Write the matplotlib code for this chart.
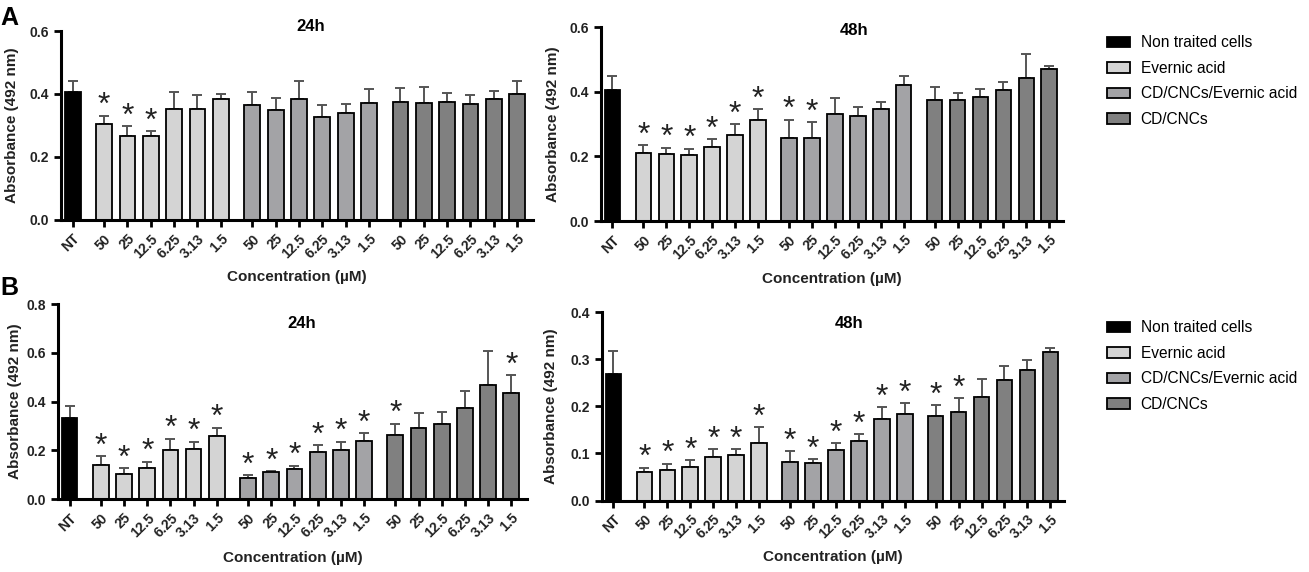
import numpy as np
import matplotlib.pyplot as plt
from matplotlib.patches import Patch

plt.rcParams['font.family'] = ['Liberation Sans', 'DejaVu Sans']

# categories
groups = ["Non traited cells", "Evernic acid", "CD/CNCs/Evernic acid", "CD/CNCs"]
conc = ["50", "25", "12.5", "6.25", "3.13", "1.5"]
tick_labels = ["NT"] + conc * 3

# panel A, 24h  (NT, evernic x6, CD/CNCs/evernic x6, CD/CNCs x6)
a24_mean = [0.405, 0.304, 0.266, 0.267, 0.352, 0.352, 0.384,
            0.365, 0.348, 0.383, 0.327, 0.340, 0.371,
            0.374, 0.370, 0.376, 0.367, 0.384, 0.400]
a24_err = [0.037, 0.027, 0.032, 0.016, 0.054, 0.046, 0.016,
           0.041, 0.040, 0.059, 0.037, 0.028, 0.045,
           0.044, 0.053, 0.027, 0.029, 0.027, 0.042]
a24_sig = [0, 1, 1, 1, 0, 0, 0,
           0, 0, 0, 0, 0, 0,
           0, 0, 0, 0, 0, 0]

# panel A, 48h
a48_mean = [0.405, 0.210, 0.206, 0.205, 0.228, 0.266, 0.314,
            0.258, 0.256, 0.330, 0.326, 0.346, 0.421,
            0.374, 0.376, 0.385, 0.404, 0.444, 0.469]
a48_err = [0.043, 0.025, 0.021, 0.019, 0.025, 0.033, 0.032,
           0.056, 0.049, 0.052, 0.028, 0.022, 0.028,
           0.041, 0.021, 0.025, 0.027, 0.072, 0.010]
a48_sig = [0, 1, 1, 1, 1, 1, 1,
           1, 1, 0, 0, 0, 0,
           0, 0, 0, 0, 0, 0]

# panel B, 24h
b24_mean = [0.334, 0.138, 0.102, 0.128, 0.203, 0.206, 0.259,
            0.087, 0.109, 0.123, 0.191, 0.202, 0.236,
            0.261, 0.291, 0.306, 0.375, 0.466, 0.433]
b24_err = [0.048, 0.037, 0.024, 0.025, 0.044, 0.029, 0.033,
           0.010, 0.004, 0.014, 0.029, 0.033, 0.034,
           0.048, 0.063, 0.049, 0.067, 0.143, 0.076]
b24_sig = [0, 1, 1, 1, 1, 1, 1,
           1, 1, 1, 1, 1, 1,
           1, 0, 0, 0, 0, 1]

# panel B, 48h
b48_mean = [0.268, 0.060, 0.064, 0.072, 0.093, 0.097, 0.123,
            0.082, 0.080, 0.108, 0.127, 0.173, 0.183,
            0.180, 0.188, 0.220, 0.255, 0.278, 0.316]
b48_err = [0.049, 0.010, 0.014, 0.014, 0.016, 0.012, 0.033,
           0.023, 0.008, 0.013, 0.014, 0.025, 0.023,
           0.022, 0.029, 0.038, 0.030, 0.021, 0.008]
b48_sig = [0, 1, 1, 1, 1, 1, 1,
           1, 1, 1, 1, 1, 1,
           1, 1, 0, 0, 0, 0]

colors = ["#000000", "#d4d4d4", "#a3a3a6", "#808080"]
bar_colors = [colors[0]] + [colors[1]] * 6 + [colors[2]] * 6 + [colors[3]] * 6

# x positions: NT, then three groups of six with a gap between groups
gap = 1.35
xpos = [0.0]
for g in range(3):
    for i in range(6):
        xpos.append(gap + g * (5 + gap) + i)
xpos = np.array(xpos)

fig = plt.figure(figsize=(13.09, 5.72), dpi=100)


def panel(rect, mean, err, sig, ymax, ystep, title, title_xy, ylab_x, xr):
    ax = fig.add_axes(rect)
    mean = np.array(mean)
    err = np.array(err)
    ax.bar(xpos, mean, width=0.68, color=bar_colors, edgecolor="black",
           linewidth=1.3, zorder=2)
    ax.errorbar(xpos, mean, yerr=[np.zeros_like(err), err], fmt="none",
                ecolor="#555555", elinewidth=1.4, capsize=3.5, capthick=1.4,
                zorder=1)
    for x, m, e, s in zip(xpos, mean, err, sig):
        if s:
            ax.annotate("*", (x, m + e), xytext=(0, -4), textcoords="offset points",
                        ha="center", va="bottom", fontsize=23, color="#222222")
    ax.set_xlim(-0.5, xr)
    ax.set_ylim(0, ymax)
    ax.set_yticks(np.arange(0, ymax + 1e-9, ystep))
    ax.set_yticklabels(["%.1f" % v for v in np.arange(0, ymax + 1e-9, ystep)],
                       fontsize=10, fontweight="bold", color="#222222")
    ax.set_xticks(xpos)
    ax.set_xticklabels(tick_labels, rotation=45, ha="right", va="top",
                       rotation_mode="anchor", fontsize=10, fontweight="bold",
                       color="#222222")
    ax.tick_params(axis="both", direction="out", length=5, width=2)
    for sp in ["top", "right"]:
        ax.spines[sp].set_visible(False)
    for sp in ["left", "bottom"]:
        ax.spines[sp].set_linewidth(2.2)
    ax.set_ylabel("Absorbance (492 nm)", fontsize=11, fontweight="bold",
                  color="#222222")
    ax.yaxis.set_label_coords(ylab_x, 0.5)
    ax.set_xlabel("Concentration (µM)", fontsize=11, fontweight="bold",
                  color="#222222")
    ax.xaxis.set_label_coords(0.5, -0.265)
    ax.text(title_xy[0], title_xy[1], title, transform=ax.transAxes,
            ha="center", va="center", fontsize=12, fontweight="bold")
    return ax


panel([0.0466, 0.6154, 0.3606, 0.3304], a24_mean, a24_err, a24_sig, 0.6, 0.2,
      "24h", (0.53, 1.026), -0.09, 19.73)
panel([0.4591, 0.6136, 0.3530, 0.3390], a48_mean, a48_err, a48_sig, 0.6, 0.2,
      "48h", (0.547, 0.985), -0.089, 19.65)
panel([0.0443, 0.1276, 0.3583, 0.3409], b24_mean, b24_err, b24_sig, 0.8, 0.2,
      "24h", (0.52, 0.90), -0.077, 19.73)
panel([0.4599, 0.1250, 0.3530, 0.3295], b48_mean, b48_err, b48_sig, 0.4, 0.1,
      "48h", (0.535, 0.94), -0.096, 19.65)

# legends
handles = [Patch(facecolor=c, edgecolor="black", linewidth=1.3) for c in colors]
for y in [1 - 29 / 572, 1 - 314 / 572]:
    fig.legend(handles, groups, loc="upper left", bbox_to_anchor=(1101 / 1309, y),
               frameon=False, fontsize=11.2, handlelength=1.45, handleheight=0.65,
               labelspacing=0.68, handletextpad=0.7, borderaxespad=0)

fig.text(0.0, 1 - 18 / 572, "A", fontsize=18, fontweight="bold", va="center")
fig.text(0.0, 1 - 288 / 572, "B", fontsize=18, fontweight="bold", va="center")

fig.savefig("out.png", dpi=100)
